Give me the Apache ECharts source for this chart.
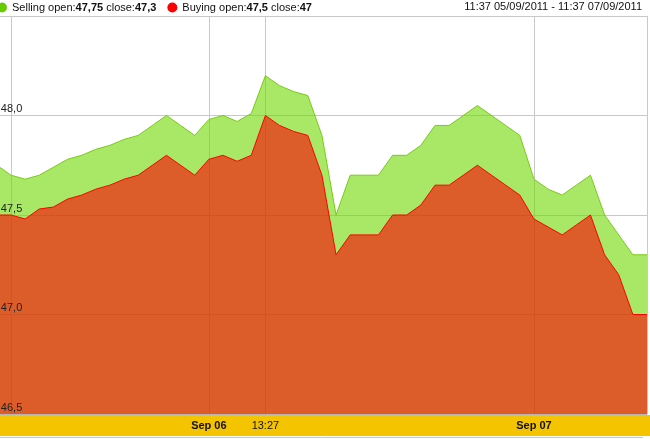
<!DOCTYPE html>
<html lang="en">
<head>
    <meta charset="UTF-8">
    <title>Selling / Buying</title>
    <script src="https://cdn.jsdelivr.net/npm/echarts@6/dist/echarts.min.js"></script>
    <style>
        html, body { margin: 0; padding: 0; background: #fff; }
        #main { width: 650px; height: 439px; }
    </style>
</head>
<body>
<div id="main"></div>
<script>
    // selling / buying prices, first point is partly outside on the left
    var selling = [47.75, 47.70, 47.68, 47.70, 47.74, 47.78, 47.80, 47.83, 47.85, 47.88,
        47.90, 47.95, 48.00, 47.95, 47.90, 47.98, 48.00, 47.97, 48.01, 48.20,
        48.15, 48.12, 48.10, 47.90, 47.50, 47.70, 47.70, 47.70, 47.80, 47.80,
        47.85, 47.95, 47.95, 48.00, 48.05, 48.00, 47.95, 47.90, 47.68, 47.63,
        47.60, 47.65, 47.70, 47.50, 47.40, 47.30, 47.30];
    var buying = [47.50, 47.50, 47.48, 47.53, 47.54, 47.58, 47.60, 47.63, 47.65, 47.68,
        47.70, 47.75, 47.80, 47.75, 47.70, 47.78, 47.80, 47.77, 47.80, 48.00,
        47.95, 47.92, 47.90, 47.70, 47.30, 47.40, 47.40, 47.40, 47.50, 47.50,
        47.55, 47.65, 47.65, 47.70, 47.75, 47.70, 47.65, 47.60, 47.48, 47.44,
        47.40, 47.45, 47.50, 47.30, 47.20, 47.00, 47.00];
    var categories = selling.map(function (v, i) { return String(i); });

    // x axis labels and vertical grid lines
    var tickIndex = [15, 19, 38];
    var tickLabels = ['{b|Sep 06}', '13:27', '{b|Sep 07}'];
    var gridIndex = [1, 15, 19, 38, 46];

    var chart = echarts.init(document.getElementById('main'));
    var font = '"Liberation Sans", Arial, sans-serif';
    var bold = { fontSize: 11, fontWeight: 'bold', color: '#111', fontFamily: font };

    var option = {
        animation: false,
        textStyle: { fontFamily: font },
        title: {
            text: '11:37 05/09/2011 - 11:37 07/09/2011',
            right: 8,
            top: 1,
            padding: 0,
            textStyle: { fontSize: 11, fontWeight: 'normal', color: '#111', fontFamily: font }
        },
        legend: {
            left: -3,
            top: 2,
            padding: 0,
            icon: 'circle',
            itemWidth: 10,
            itemHeight: 10,
            itemGap: 11,
            data: ['Selling', 'Buying'],
            formatter: function (name) {
                if (name === 'Selling') {
                    return 'Selling open:{b|47,75} close:{b|47,3}';
                }
                return 'Buying open:{b|47,5} close:{b|47}';
            },
            textStyle: { fontSize: 11, color: '#111', fontFamily: font, rich: { b: bold } }
        },
        graphic: [
            { type: 'rect', z: 1, shape: { x: 0, y: 415, width: 650, height: 21 }, style: { fill: '#F5C400' } },
            { type: 'line', z: 1, shape: { x1: 0, y1: 437.5, x2: 643, y2: 437.5 }, style: { stroke: '#c8c8c8', lineWidth: 1 } }
        ],
        grid: { left: -3.13, right: 3, top: 16, bottom: 25, outerBoundsMode: 'none' },
        xAxis: [{
            // grid lines, under the areas
            type: 'category',
            boundaryGap: false,
            data: categories,
            axisLine: { lineStyle: { color: '#b4b4b4', width: 1 } },
            axisTick: { show: false },
            axisLabel: { show: false },
            splitLine: {
                show: true,
                interval: function (i) { return gridIndex.indexOf(i) >= 0; },
                lineStyle: { color: '#c8c8c8', width: 1 }
            }
        }, {
            // labels in the yellow band
            type: 'category',
            position: 'bottom',
            boundaryGap: false,
            data: categories,
            z: 10,
            axisLine: { show: false },
            axisTick: { show: false },
            splitLine: { show: false },
            axisLabel: {
                interval: function (i) { return tickIndex.indexOf(i) >= 0; },
                formatter: function (v) {
                    var k = tickIndex.indexOf(Number(v));
                    return k >= 0 ? tickLabels[k] : '';
                },
                margin: 6,
                fontSize: 11,
                color: '#111',
                fontFamily: font,
                rich: { b: bold }
            }
        }],
        yAxis: [{
            type: 'value',
            min: 46.5,
            max: 48.5,
            interval: 0.5,
            axisLine: { show: false },
            axisTick: { show: false },
            axisLabel: { show: false },
            splitLine: { lineStyle: { color: '#c8c8c8', width: 1 } }
        }, {
            type: 'value',
            position: 'left',
            min: 46.5,
            max: 48.5,
            interval: 0.5,
            z: 10,
            axisLine: { show: false },
            axisTick: { show: false },
            splitLine: { show: false },
            axisLabel: {
                inside: true,
                margin: 4,
                verticalAlign: 'bottom',
                padding: [0, 0, 1, 0],
                showMaxLabel: false,
                fontSize: 11,
                color: '#222',
                fontFamily: font,
                formatter: function (v) { return v.toFixed(1).replace('.', ','); }
            }
        }],
        series: [{
            name: 'Selling',
            type: 'line',
            data: selling,
            showSymbol: false,
            silent: true,
            itemStyle: { color: '#66cc00' },
            lineStyle: { color: '#77cc11', width: 1 },
            areaStyle: { color: '#6ED900', opacity: 0.6, origin: 'start' }
        }, {
            name: 'Buying',
            type: 'line',
            data: buying,
            showSymbol: false,
            silent: true,
            itemStyle: { color: '#ff0000' },
            lineStyle: { color: '#ff0000', width: 1 },
            areaStyle: { color: '#ff0000', opacity: 0.6, origin: 'start' }
        }]
    };
    chart.setOption(option);
</script>
</body>
</html>
